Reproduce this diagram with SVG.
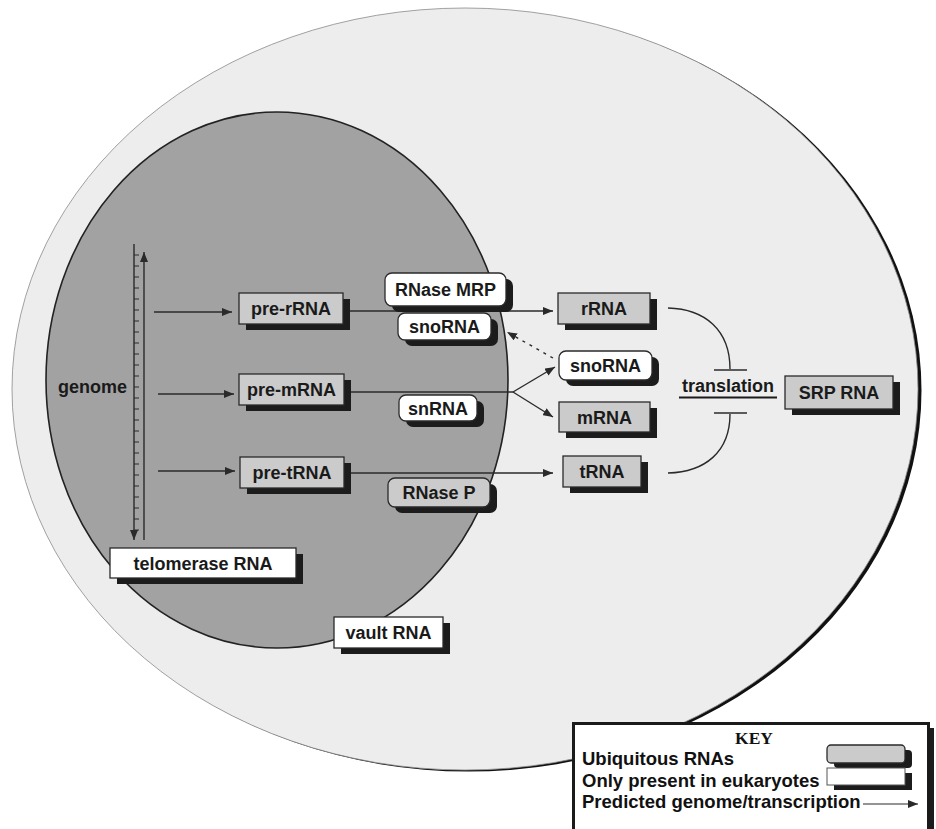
<svg xmlns="http://www.w3.org/2000/svg" width="936" height="829" viewBox="0 0 936 829">
<defs>
<style>
.t{font-family:"Liberation Sans",Arial,sans-serif;font-weight:bold;font-size:18px;fill:#1a1a1a;text-anchor:middle}
.k{font-family:"Liberation Sans",Arial,sans-serif;font-weight:bold;font-size:18.5px;fill:#111}
.sh{fill:#1c1c1c}
.g{fill:#cbcbcb;stroke:#2a2a2a;stroke-width:1.3}
.w{fill:#ffffff;stroke:#2a2a2a;stroke-width:1.3}
.ln{stroke:#2a2a2a;stroke-width:1.4;fill:none}
</style>
<marker id="ah" viewBox="0 0 10 8" refX="10" refY="4" markerWidth="10" markerHeight="8" markerUnits="userSpaceOnUse" orient="auto">
<path d="M0,0 L10,4 L0,8 Z" fill="#2a2a2a"/>
</marker>
</defs>
<rect width="936" height="829" fill="#ffffff"/>
<g id="cell">
<ellipse cx="468.5" cy="390.5" rx="453" ry="381" fill="#111"/>
<ellipse cx="465" cy="389" rx="453" ry="381" fill="#ededed" stroke="#8a8a8a" stroke-width="0.8"/>
</g>
<g id="nucleus">
<ellipse cx="277" cy="380" rx="231" ry="268" fill="#a2a2a2" stroke="#222" stroke-width="1.6"/>
</g>
<g id="genome">
<line x1="134" y1="244" x2="134" y2="540" class="ln" marker-end="url(#ah)"/>
<line x1="144" y1="540" x2="144" y2="252" class="ln" marker-end="url(#ah)"/>
<path d="M134,255h5M134,266h5M134,277h5M134,288h5M134,299h5M134,310h5M134,321h5M134,332h5M134,343h5M134,354h5M134,365h5M134,376h5M134,387h5M134,398h5M134,409h5M134,420h5M134,431h5M134,442h5M134,453h5M134,464h5M134,475h5M134,486h5M134,497h5M134,508h5M134,519h5M134,530h5" stroke="#2a2a2a" stroke-width="1"/>
<text x="127" y="393" class="t" style="text-anchor:end">genome</text>
</g>
<g id="connectors">
<line x1="154" y1="312" x2="232" y2="312" class="ln" marker-end="url(#ah)"/>
<line x1="158" y1="394" x2="234" y2="394" class="ln" marker-end="url(#ah)"/>
<line x1="158" y1="471" x2="235" y2="471" class="ln" marker-end="url(#ah)"/>
<line x1="350" y1="311" x2="553" y2="311" class="ln" marker-end="url(#ah)"/>
<line x1="351" y1="392" x2="513" y2="392" class="ln"/>
<line x1="513" y1="392" x2="555" y2="367" class="ln" marker-end="url(#ah)"/>
<line x1="513" y1="392" x2="553" y2="417" class="ln" marker-end="url(#ah)"/>
<line x1="351" y1="473" x2="553" y2="473" class="ln" marker-end="url(#ah)"/>
<line x1="553" y1="358" x2="507" y2="332" class="ln" stroke-dasharray="3,5" marker-end="url(#ah)"/>
<path d="M668,308 C705,309 730,330 730,369" class="ln"/>
<line x1="714" y1="370" x2="747" y2="370" class="ln" stroke-width="1.8"/>
<line x1="714" y1="413" x2="747" y2="413" class="ln" stroke-width="1.8"/>
<path d="M730,414 C730,452 705,472 668,473" class="ln"/>
</g>
<g id="translation">
<text x="728" y="392" class="t">translation</text>
<line x1="679" y1="397.5" x2="777" y2="397.5" stroke="#1a1a1a" stroke-width="2"/>
</g>
<g id="pre-rRNA"><rect x="246" y="299" width="104" height="31" class="sh"/><rect x="239" y="293" width="104" height="31" class="g"/><text x="291" y="315" class="t">pre-rRNA</text></g>
<g id="pre-mRNA"><rect x="246" y="380" width="105" height="31" class="sh"/><rect x="239" y="374" width="105" height="31" class="g"/><text x="291.5" y="396" class="t">pre-mRNA</text></g>
<g id="pre-tRNA"><rect x="247" y="463" width="104" height="31" class="sh"/><rect x="240" y="457" width="104" height="31" class="g"/><text x="292" y="479" class="t">pre-tRNA</text></g>
<g id="rRNA"><rect x="565" y="299" width="92" height="31" class="sh"/><rect x="558" y="293" width="92" height="31" class="g"/><text x="604" y="315" class="t">rRNA</text></g>
<g id="mRNA"><rect x="566" y="408" width="91" height="30" class="sh"/><rect x="559" y="402" width="91" height="30" class="g"/><text x="604.5" y="423.5" class="t">mRNA</text></g>
<g id="tRNA"><rect x="570" y="462" width="78" height="31" class="sh"/><rect x="563" y="456" width="78" height="31" class="g"/><text x="602" y="478" class="t">tRNA</text></g>
<g id="SRP-RNA"><rect x="792" y="382" width="108" height="33" class="sh"/><rect x="785" y="376" width="108" height="33" class="g"/><text x="839" y="399" class="t">SRP RNA</text></g>
<g id="RNase-MRP"><rect x="392" y="279" width="121" height="33" rx="7" class="sh"/><rect x="385" y="273" width="121" height="33" rx="7" class="w"/><text x="445.5" y="296" class="t">RNase MRP</text></g>
<g id="snoRNA-nuc"><rect x="405" y="319" width="93" height="27" rx="7" class="sh"/><rect x="398" y="313" width="93" height="27" rx="7" class="w"/><text x="444.5" y="333" class="t">snoRNA</text></g>
<g id="snRNA"><rect x="406" y="401" width="78" height="26" rx="7" class="sh"/><rect x="399" y="395" width="78" height="26" rx="7" class="w"/><text x="438" y="414.5" class="t">snRNA</text></g>
<g id="RNase-P"><rect x="395" y="484" width="102" height="29" rx="7" class="sh"/><rect x="388" y="478" width="102" height="29" rx="7" class="g"/><text x="439" y="499" class="t">RNase P</text></g>
<g id="snoRNA-cyt"><rect x="566" y="357" width="93" height="29" rx="7" class="sh"/><rect x="559" y="351" width="93" height="29" rx="7" class="w"/><text x="605.5" y="372" class="t">snoRNA</text></g>
<g id="telomerase-RNA"><rect x="117" y="554" width="186" height="30" class="sh"/><rect x="110" y="548" width="186" height="30" class="w"/><text x="203" y="569.5" class="t">telomerase RNA</text></g>
<g id="vault-RNA"><rect x="341" y="623" width="109" height="31" class="sh"/><rect x="334" y="617" width="109" height="31" class="w"/><text x="388.5" y="639" class="t">vault RNA</text></g>
<g id="key">
<rect x="578" y="728" width="356" height="110" class="sh"/>
<rect x="573.5" y="723.5" width="355" height="110" fill="#ffffff" stroke="#1a1a1a" stroke-width="3"/>
<text x="754" y="744" style="font-family:'Liberation Serif','Times New Roman',serif;font-weight:bold;font-size:17.5px;fill:#111;text-anchor:middle">KEY</text>
<text x="582" y="765" class="k">Ubiquitous RNAs</text>
<text x="582" y="787" class="k">Only present in eukaryotes</text>
<text x="582" y="808" class="k">Predicted genome/transcription</text>
<rect x="834" y="750" width="78" height="18" rx="4" class="sh"/>
<rect x="827" y="745" width="78" height="18" rx="4" class="g"/>
<rect x="834" y="773" width="78" height="17" class="sh"/>
<rect x="827" y="768" width="78" height="17" fill="#fff" stroke="#555" stroke-width="1"/>
<line x1="863" y1="804" x2="918" y2="804" stroke="#2a2a2a" stroke-width="1.2" marker-end="url(#ah)"/>
</g>
</svg>
